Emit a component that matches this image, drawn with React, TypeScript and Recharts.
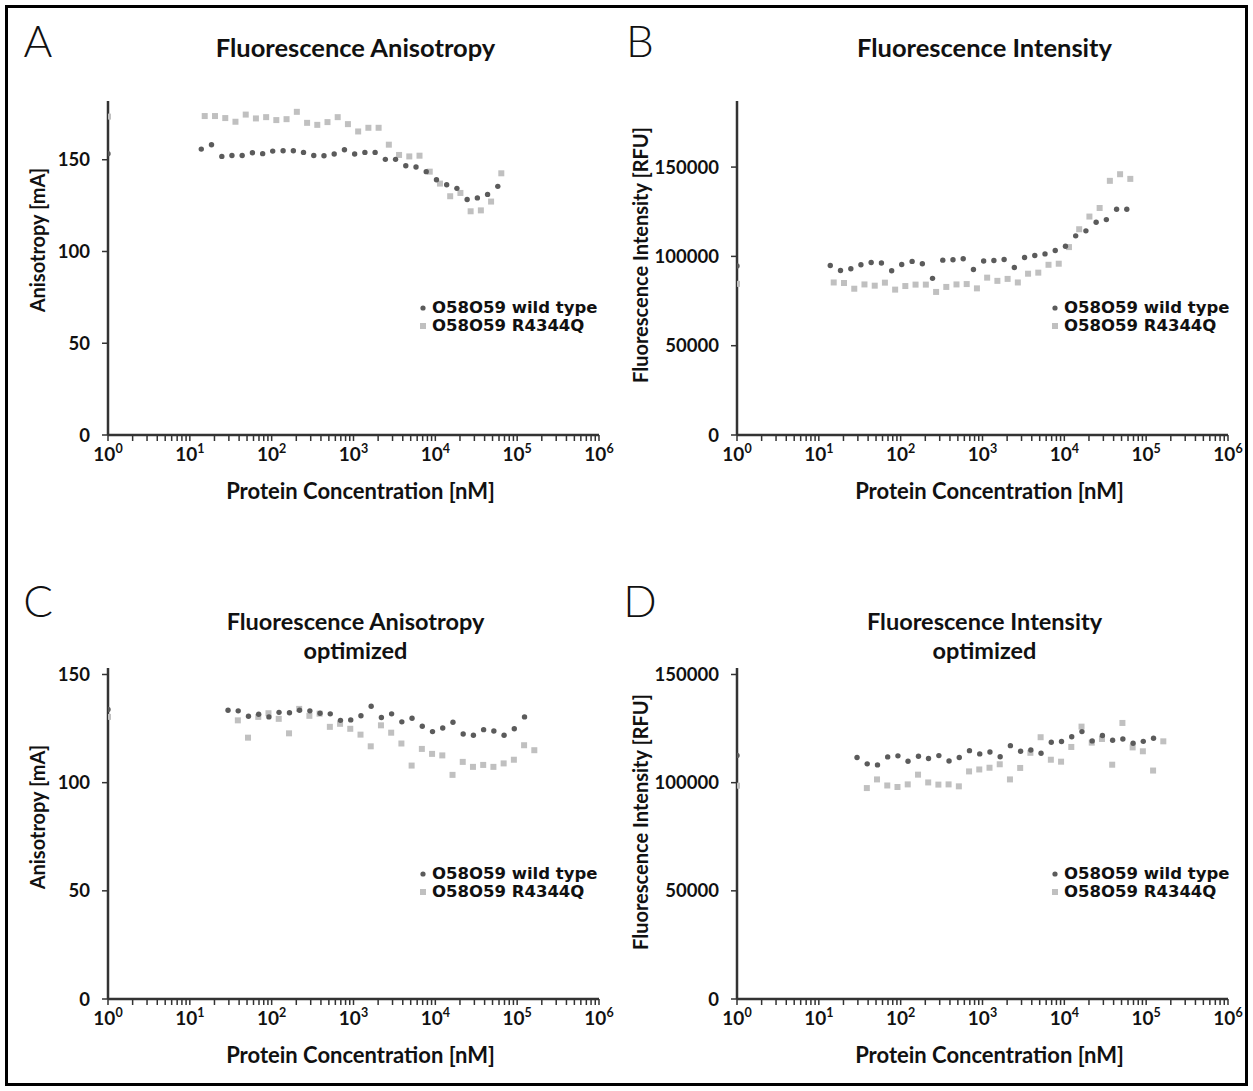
import React from 'react';
import { ScatterChart, Scatter, XAxis, YAxis } from 'recharts';

const TEXT_FONT = 'Lato, "Open Sans", sans-serif';
const LEGEND_FONT = '"DejaVu Sans", Verdana, sans-serif';
const WT_COLOR = '#5b5b5b';
const MUT_COLOR = '#c0c0c0';
const AXIS_COLOR = '#333333';

// x axis: decades with exponent labels, plus minor ticks 2..9 inside each decade
const decadeTicks = [1, 10, 100, 1000, 10000, 100000, 1000000];
const decadeExponents = ['0', '1', '2', '3', '4', '5', '6'];
const minorMultipliers = [2, 3, 4, 5, 6, 7, 8, 9];
const xTicks = decadeTicks.flatMap((d, i) =>
  i < decadeTicks.length - 1 ? [d, ...minorMultipliers.map((m) => m * d)] : [d]
);

const anisotropyTicks = [0, 50, 100, 150];
const intensityTicks = [0, 50000, 100000, 150000];

// protein concentration [nM]; first entry = protein-free sample, drawn on the y axis
const concTopWt = [1, 13.8, 18.4, 24.6, 32.7, 43.6, 58.2, 77.6, 103, 138, 184, 245, 327, 436, 581, 775, 1033, 1378, 1837, 2450, 3266, 4355, 5807, 7742, 10323, 13764, 18352, 24469, 32625, 43500, 58000];
const concTopMut = [1, 15.2, 20.3, 27.1, 36.1, 48.2, 64.2, 85.6, 114, 152, 203, 271, 361, 481, 641, 855, 1140, 1520, 2027, 2703, 3604, 4805, 6407, 8543, 11391, 15187, 20250, 27000, 36000, 48000, 64000];
const concBottomWt = [1, 29.3, 39.0, 52.1, 69.4, 92.6, 123, 165, 219, 293, 390, 520, 693, 925, 1233, 1644, 2192, 2922, 3896, 5195, 6926, 9236, 12314, 16419, 21891, 29189, 38918, 51890, 69187, 92250, 123000];
const concBottomMut = [1, 38.6, 51.4, 68.6, 91.4, 122, 163, 217, 289, 385, 514, 685, 913, 1218, 1624, 2165, 2887, 3849, 5132, 6842, 9123, 12164, 16218, 21624, 28832, 38443, 51258, 68343, 91124, 121500, 162000];

// A: fluorescence anisotropy [mA]
const anisoWt = [153.3, 155.8, 158.2, 151.8, 152.3, 152.3, 153.8, 153.3, 154.7, 154.9, 154.9, 154.0, 152.3, 152.2, 153.1, 155.4, 153.1, 154.0, 154.0, 150.2, 150.2, 146.7, 146.0, 143.5, 139.1, 136.4, 134.4, 128.3, 129.2, 131.1, 135.5];
const anisoMut = [173.5, 173.8, 173.8, 172.7, 170.7, 174.6, 172.5, 173.2, 171.6, 172.1, 176.1, 170.1, 169.0, 170.5, 173.2, 169.4, 165.4, 167.4, 167.4, 158.2, 152.6, 151.8, 152.2, 143.5, 137.0, 130.1, 131.9, 121.9, 122.4, 127.2, 142.6];

// B: fluorescence intensity [RFU]
const intensWt = [94600, 94900, 92100, 93100, 95300, 96600, 96300, 92000, 95500, 97200, 95900, 87700, 97900, 98100, 98700, 92700, 97400, 97700, 98300, 93800, 99400, 100500, 101400, 103300, 105700, 111500, 114300, 119100, 120600, 126400, 126400];
const intensMut = [84600, 85400, 85100, 81900, 84300, 83600, 85300, 81400, 83400, 84200, 84200, 80100, 82900, 84300, 84500, 82100, 88100, 86300, 87400, 85400, 90300, 90900, 95300, 95900, 105200, 115200, 122300, 127100, 142300, 146000, 143400];

// C: fluorescence anisotropy, optimized [mA]
const anisoOptWt = [133.8, 133.5, 133.2, 130.7, 131.6, 130.4, 132.5, 132.3, 133.5, 133.2, 132.1, 131.8, 128.8, 129.0, 130.9, 135.3, 130.1, 131.8, 128.1, 129.8, 126.1, 123.6, 125.3, 127.9, 122.5, 121.9, 124.5, 123.9, 121.9, 124.9, 130.4];
const anisoOptMut = [130.4, 128.8, 120.8, 130.4, 132.1, 129.5, 122.8, 134.1, 130.9, 131.9, 125.8, 127.2, 124.9, 122.2, 116.8, 126.5, 123.1, 118.1, 107.9, 115.6, 113.3, 112.6, 103.6, 109.6, 107.3, 108.2, 107.3, 108.9, 110.6, 117.3, 115.0];

// D: fluorescence intensity, optimized [RFU]
const intensOptWt = [112600, 111600, 108700, 108200, 111900, 112400, 109900, 112200, 111200, 112500, 110000, 111600, 114800, 113300, 114200, 112000, 117100, 114500, 115100, 113600, 118700, 119000, 121200, 123600, 119300, 121800, 119600, 120200, 118200, 119100, 120500];
const intensOptMut = [98600, 97500, 101500, 98700, 98000, 99200, 103700, 100100, 99100, 99200, 98300, 105200, 106100, 106900, 108500, 101500, 106800, 113800, 121000, 110600, 109700, 116500, 125900, 118500, 120200, 108300, 127600, 116300, 114500, 105600, 119100];

const seriesNames = ['O58O59 wild type', 'O58O59 R4344Q'];

const toPoints = (xs: number[], ys: number[]) => xs.map((x, i) => ({ x, y: ys[i] }));

function LogTick(props: any) {
  const { x, y, payload } = props;
  const idx = decadeTicks.indexOf(payload.value);
  if (idx < 0) return <g />;
  return (
    <text x={x} y={y + 18} textAnchor="middle" fontFamily={TEXT_FONT} fontWeight={700} fontSize={19} fill="#111">
      <tspan>10</tspan>
      <tspan dy={-8} fontSize={12.5}>{decadeExponents[idx]}</tspan>
    </text>
  );
}

const circleShape = (p: any) => <circle cx={p.cx} cy={p.cy} r={2.7} fill={WT_COLOR} />;
const squareShape = (p: any) => <rect x={p.cx - 3} y={p.cy - 3} width={6} height={6} fill={MUT_COLOR} />;

const centered = (cx: number, cy: number, extra: React.CSSProperties = {}): React.CSSProperties => ({
  position: 'absolute',
  left: cx,
  top: cy,
  transform: 'translate(-50%, -50%)',
  whiteSpace: 'nowrap',
  fontFamily: TEXT_FONT,
  color: '#111',
  ...extra,
});

interface PanelProps {
  letter: string;
  letterPos: [number, number];
  title: string[];
  titleY: number;
  plot: { left: number; top: number; right: number; bottom: number };
  yMax: number;
  yTicks: number[];
  yLabel: string;
  yLabelPos: [number, number];
  legendPos: [number, number];
  wt: { x: number; y: number }[];
  mut: { x: number; y: number }[];
}

function Panel(p: PanelProps) {
  const YW = 90;
  const MT = 10;
  const MR = 20;
  const XH = 40;
  const plotW = p.plot.right - p.plot.left;
  const plotH = p.plot.bottom - p.plot.top;
  const cx = (p.plot.left + p.plot.right) / 2;
  const twoLines = p.title.length > 1;
  return (
    <>
      <div style={centered(p.letterPos[0], p.letterPos[1], { fontSize: 44, fontWeight: 300 })}>{p.letter}</div>
      <div
        style={centered(cx + 2, p.titleY, {
          fontSize: twoLines ? 23.5 : 25.5,
          fontWeight: 700,
          lineHeight: twoLines ? '28.5px' : '30px',
          textAlign: 'center',
        })}
      >
        {p.title.map((t, i) => (
          <React.Fragment key={t}>
            {i > 0 && <br />}
            {t}
          </React.Fragment>
        ))}
      </div>
      <div style={{ position: 'absolute', left: p.plot.left - YW, top: p.plot.top - MT }}>
        <ScatterChart width={plotW + YW + MR} height={plotH + MT + XH} margin={{ top: MT, right: MR, bottom: 0, left: 0 }}>
          <XAxis
            dataKey="x"
            type="number"
            scale="log"
            domain={[1, 1000000]}
            ticks={xTicks}
            interval={0}
            allowDataOverflow
            height={XH}
            tick={<LogTick />}
            tickSize={6}
            tickLine={{ stroke: AXIS_COLOR, strokeWidth: 1.5 }}
            axisLine={{ stroke: AXIS_COLOR, strokeWidth: 2.5 }}
          />
          <YAxis
            dataKey="y"
            type="number"
            domain={[0, p.yMax]}
            ticks={p.yTicks}
            interval={0}
            allowDataOverflow
            width={YW}
            tickSize={6}
            tickMargin={12}
            tick={{ fontFamily: TEXT_FONT, fontWeight: 700, fontSize: 18.5, fill: '#111' }}
            tickLine={{ stroke: AXIS_COLOR, strokeWidth: 1.5 }}
            axisLine={{ stroke: AXIS_COLOR, strokeWidth: 2.5 }}
          />
          <Scatter name={seriesNames[1]} data={p.mut} shape={squareShape} isAnimationActive={false} />
          <Scatter name={seriesNames[0]} data={p.wt} shape={circleShape} isAnimationActive={false} />
        </ScatterChart>
      </div>
      <div style={centered(cx + 7, p.plot.bottom + 55, { fontSize: 22, fontWeight: 700 })}>Protein Concentration [nM]</div>
      <div
        style={{
          ...centered(p.yLabelPos[0], p.yLabelPos[1], { fontSize: 20, fontWeight: 700, lineHeight: '20px' }),
          transform: 'translate(-50%, -50%) rotate(-90deg)',
        }}
      >
        {p.yLabel}
      </div>
      <div style={{ position: 'absolute', left: p.legendPos[0] - 5, top: p.legendPos[1] - 9, fontFamily: LEGEND_FONT, fontWeight: 700, fontSize: 16.5, color: '#111', lineHeight: '18px' }}>
        {seriesNames.map((n, i) => (
          <div key={n} style={{ display: 'flex', alignItems: 'center', whiteSpace: 'nowrap' }}>
            <svg width={14} height={18}>
              {i === 0 ? <circle cx={5} cy={9} r={2.6} fill={WT_COLOR} /> : <rect x={2} y={6} width={6} height={6} fill={MUT_COLOR} />}
            </svg>
            <span>{n}</span>
          </div>
        ))}
      </div>
    </>
  );
}

export default function App() {
  const top = { top: 101, bottom: 435 };
  const bottom = { top: 668, bottom: 999 };
  return (
    <div style={{ position: 'absolute', left: 0, top: 0, width: 1253, height: 1091, background: '#fff' }}>
      <div style={{ position: 'absolute', left: 5, top: 5, width: 1243, height: 1081, border: '3px solid #000', boxSizing: 'border-box' }} />
      <Panel
        letter="A"
        letterPos={[38, 40]}
        title={['Fluorescence Anisotropy']}
        titleY={47}
        plot={{ left: 108, right: 599, ...top }}
        yMax={182}
        yTicks={anisotropyTicks}
        yLabel="Anisotropy [mA]"
        yLabelPos={[37, 240]}
        legendPos={[423, 308]}
        wt={toPoints(concTopWt, anisoWt)}
        mut={toPoints(concTopMut, anisoMut)}
      />
      <Panel
        letter="B"
        letterPos={[640, 40]}
        title={['Fluorescence Intensity']}
        titleY={47}
        plot={{ left: 737, right: 1228, ...top }}
        yMax={187000}
        yTicks={intensityTicks}
        yLabel="Fluorescence Intensity [RFU]"
        yLabelPos={[640, 255]}
        legendPos={[1055, 308]}
        wt={toPoints(concTopWt, intensWt)}
        mut={toPoints(concTopMut, intensMut)}
      />
      <Panel
        letter="C"
        letterPos={[38, 600]}
        title={['Fluorescence Anisotropy', 'optimized']}
        titleY={635}
        plot={{ left: 108, right: 599, ...bottom }}
        yMax={153}
        yTicks={anisotropyTicks}
        yLabel="Anisotropy [mA]"
        yLabelPos={[37, 817]}
        legendPos={[423, 874]}
        wt={toPoints(concBottomWt, anisoOptWt)}
        mut={toPoints(concBottomMut, anisoOptMut)}
      />
      <Panel
        letter="D"
        letterPos={[640, 600]}
        title={['Fluorescence Intensity', 'optimized']}
        titleY={635}
        plot={{ left: 737, right: 1228, ...bottom }}
        yMax={153000}
        yTicks={intensityTicks}
        yLabel="Fluorescence Intensity [RFU]"
        yLabelPos={[640, 822]}
        legendPos={[1055, 874]}
        wt={toPoints(concBottomWt, intensOptWt)}
        mut={toPoints(concBottomMut, intensOptMut)}
      />
    </div>
  );
}
